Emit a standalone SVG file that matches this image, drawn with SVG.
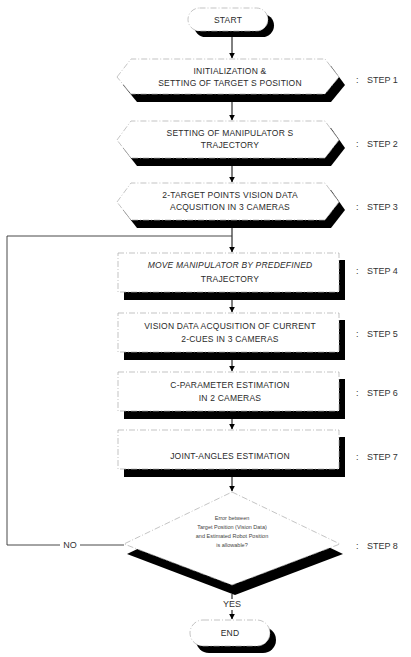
<svg xmlns="http://www.w3.org/2000/svg" width="411" height="657" viewBox="0 0 411 657">
<defs>
<marker id="ah" viewBox="0 0 10 10" refX="9" refY="5" markerWidth="6" markerHeight="6" orient="auto" markerUnits="userSpaceOnUse">
<path d="M0,0 L10,5 L0,10 z" fill="#000"/>
</marker>
</defs>
<style>
.sh{fill:#000}
.bx{fill:#fff;stroke:#aaa;stroke-width:0.7;stroke-dasharray:6 2 1 2}
.t{font-family:"Liberation Sans",Arial,sans-serif;font-size:8.5px;fill:#2a2a2a;text-anchor:middle;letter-spacing:0.2px}
.s{font-family:"Liberation Sans",Arial,sans-serif;font-size:9px;fill:#333}
.d{font-family:"Liberation Sans",Arial,sans-serif;font-size:5.5px;fill:#444;text-anchor:middle}
.c{fill:none;stroke:#000;stroke-width:1}
.l{fill:none;stroke:#333;stroke-width:0.9}
</style>
<rect width="411" height="657" fill="#fff"/>

<g id="connectors">
<line class="c" x1="232" y1="37" x2="232" y2="58" marker-end="url(#ah)"/>
<line class="c" x1="232" y1="101" x2="232" y2="120" marker-end="url(#ah)"/>
<line class="c" x1="232" y1="165" x2="232" y2="182" marker-end="url(#ah)"/>
<line class="c" x1="232" y1="227" x2="232" y2="252" marker-end="url(#ah)"/>
<line class="c" x1="232" y1="299" x2="232" y2="312" marker-end="url(#ah)"/>
<line class="c" x1="232" y1="359" x2="232" y2="371" marker-end="url(#ah)"/>
<line class="c" x1="232" y1="418" x2="232" y2="429" marker-end="url(#ah)"/>
<line class="c" x1="232" y1="476" x2="232" y2="491" marker-end="url(#ah)"/>
<line class="c" x1="232" y1="594" x2="232" y2="599"/>
<line class="c" x1="232" y1="610" x2="232" y2="619" marker-end="url(#ah)"/>
<polyline class="l" points="60,545 7,545 7,236 232,236"/>
<line class="l" x1="80" y1="545" x2="124" y2="545"/>
<text class="s" x="70" y="548" text-anchor="middle" font-size="8">NO</text>
<text class="s" x="232" y="607" text-anchor="middle" font-size="8">YES</text>
</g>

<g id="start">
<rect class="sh" x="194" y="14" width="80" height="23" rx="11.5"/>
<rect class="bx" x="188" y="8" width="80" height="23" rx="11.5"/>
<text class="t" x="228" y="23">START</text>
</g>

<g id="step1">
<polygon class="sh" points="123,85 137,66 331,66 345,85 331,102 137,102"/>
<polygon class="bx" points="117,77 131,59 325,59 339,77 325,94 131,94"/>
<text class="t" x="230" y="74">INITIALIZATION &amp;</text>
<text class="t" x="230" y="86">SETTING OF TARGET S POSITION</text>
<text class="s" x="356" y="83">:</text><text class="s" x="367" y="83">STEP 1</text>
</g>

<g id="step2">
<polygon class="sh" points="123,148 137,128 331,128 345,148 331,166 137,166"/>
<polygon class="bx" points="117,140 131,121 325,121 339,140 325,158 131,158"/>
<text class="t" x="230" y="136">SETTING OF MANIPULATOR S</text>
<text class="t" x="230" y="148">TRAJECTORY</text>
<text class="s" x="356" y="147">:</text><text class="s" x="367" y="147">STEP 2</text>
</g>

<g id="step3">
<polygon class="sh" points="123,210 137,190 331,190 345,210 331,228 137,228"/>
<polygon class="bx" points="117,202 131,183 325,183 339,202 325,220 131,220"/>
<text class="t" x="230" y="198">2-TARGET POINTS VISION DATA</text>
<text class="t" x="230" y="210">ACQUSITION IN 3 CAMERAS</text>
<text class="s" x="356" y="210">:</text><text class="s" x="367" y="210">STEP 3</text>
</g>

<g id="step4">
<rect class="sh" x="124" y="260" width="221" height="40"/>
<rect class="bx" x="118" y="253" width="221" height="39"/>
<text class="t" x="230" y="268" font-style="italic">MOVE MANIPULATOR BY PREDEFINED</text>
<text class="t" x="230" y="282">TRAJECTORY</text>
<text class="s" x="356" y="274">:</text><text class="s" x="367" y="274">STEP 4</text>
</g>

<g id="step5">
<rect class="sh" x="124" y="320" width="221" height="40"/>
<rect class="bx" x="118" y="313" width="221" height="39"/>
<text class="t" x="230" y="329">VISION DATA ACQUSITION OF CURRENT</text>
<text class="t" x="230" y="342">2-CUES IN 3 CAMERAS</text>
<text class="s" x="356" y="337">:</text><text class="s" x="367" y="337">STEP 5</text>
</g>

<g id="step6">
<rect class="sh" x="124" y="379" width="221" height="40"/>
<rect class="bx" x="118" y="372" width="221" height="39"/>
<text class="t" x="230" y="388">C-PARAMETER ESTIMATION</text>
<text class="t" x="230" y="401">IN 2 CAMERAS</text>
<text class="s" x="356" y="396">:</text><text class="s" x="367" y="396">STEP 6</text>
</g>

<g id="step7">
<rect class="sh" x="124" y="437" width="221" height="40"/>
<rect class="bx" x="118" y="430" width="221" height="39"/>
<text class="t" x="230" y="459">JOINT-ANGLES ESTIMATION</text>
<text class="s" x="356" y="460">:</text><text class="s" x="367" y="460">STEP 7</text>
</g>

<g id="step8">
<polygon class="sh" points="235,502 343,554 235,595 127,554"/>
<polygon class="bx" points="232,492 340,544 232,585 124,544"/>
<text class="d" x="232" y="520">Error between</text>
<text class="d" x="232" y="529">Target Position (Vision Data)</text>
<text class="d" x="232" y="538">and Estimated Robot Position</text>
<text class="d" x="232" y="547">is allowable?</text>
<text class="s" x="356" y="549">:</text><text class="s" x="367" y="549">STEP 8</text>
</g>

<g id="end">
<rect class="sh" x="196" y="627" width="80" height="26" rx="13"/>
<rect class="bx" x="190" y="620" width="80" height="26" rx="13"/>
<text class="t" x="230" y="636">END</text>
</g>
</svg>
